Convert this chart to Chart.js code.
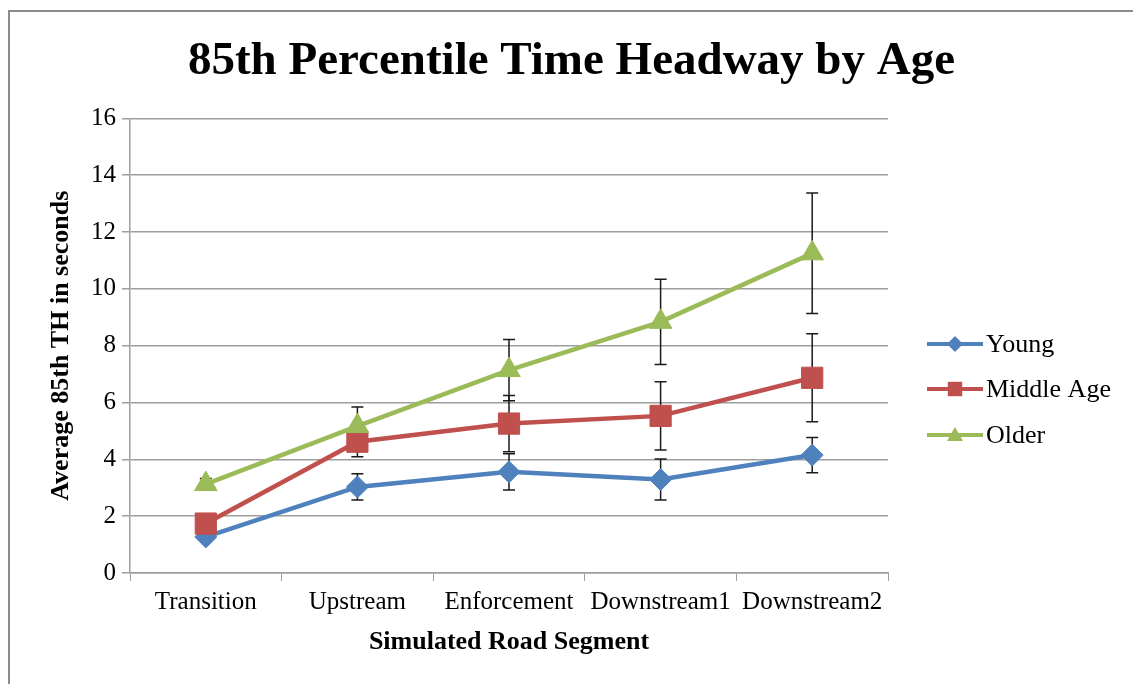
<!DOCTYPE html>
<html>
<head>
<meta charset="utf-8">
<script src="https://cdn.jsdelivr.net/npm/chart.js@4.4.1/dist/chart.umd.min.js"></script>
<style>
  html, body { margin: 0; padding: 0; background: #fff; overflow: hidden; }
  #frame { position: absolute; left: 8px; top: 10px; width: 1200px; height: 800px; border: 2px solid #8c8c8c; }
  #wrap { position: absolute; left: 0; top: 0; width: 1133px; height: 684px; }
</style>
</head>
<body>
<div id="frame"></div>
<div id="wrap"><canvas id="headwayChart"></canvas></div>
<script>
const segments = ['Transition', 'Upstream', 'Enforcement', 'Downstream1', 'Downstream2'];

const young = [1.27, 3.03, 3.56, 3.29, 4.15];
const youngErr = [0.15, 0.46, 0.64, 0.72, 0.62];

const middleAge = [1.74, 4.62, 5.26, 5.53, 6.87];
const middleAgeErr = [0.2, 0.53, 0.99, 1.2, 1.55];

const older = [3.13, 5.17, 7.14, 8.84, 11.25];
const olderErr = [0.2, 0.67, 1.08, 1.5, 2.12];

const yTicks = [0, 2, 4, 6, 8, 10, 12, 14, 16];

const SERIF = "'Liberation Serif', 'Times New Roman', serif";
const GRID = '#9e9e9e';

// vertical error bars, drawn under the markers
const errorBars = {
    id: 'errorBars',
    beforeDatasetsDraw(chart) {
        const ctx = chart.ctx;
        const y = chart.scales.y;
        ctx.save();
        ctx.strokeStyle = '#1a1a1a';
        ctx.lineWidth = 1.5;
        chart.data.datasets.forEach((ds, i) => {
            const meta = chart.getDatasetMeta(i);
            meta.data.forEach((pt, j) => {
                const v = ds.data[j], e = ds.errors[j];
                const top = y.getPixelForValue(v + e);
                const bot = y.getPixelForValue(v - e);
                const x = pt.x;
                ctx.beginPath();
                ctx.moveTo(x, top); ctx.lineTo(x, bot);
                ctx.moveTo(x - 6, top); ctx.lineTo(x + 6, top);
                ctx.moveTo(x - 6, bot); ctx.lineTo(x + 6, bot);
                ctx.stroke();
            });
        });
        ctx.restore();
    }
};

function drawMarker(ctx, style, x, y, s) {
    ctx.beginPath();
    if (style === 'rectRot') {
        ctx.moveTo(x, y - s); ctx.lineTo(x + s, y); ctx.lineTo(x, y + s); ctx.lineTo(x - s, y);
    } else if (style === 'rect') {
        ctx.rect(x - s * 0.9, y - s * 0.9, s * 1.8, s * 1.8);
    } else {
        ctx.moveTo(x, y - s); ctx.lineTo(x + s, y + s * 0.75); ctx.lineTo(x - s, y + s * 0.75);
    }
    ctx.closePath();
    ctx.fill();
}

// Excel-style legend: line with marker, text to the right
const sideLegend = {
    id: 'sideLegend',
    afterDraw(chart) {
        const ctx = chart.ctx;
        const rows = [344, 389, 435];
        ctx.save();
        chart.data.datasets.forEach((ds, i) => {
            const y = rows[i];
            ctx.strokeStyle = ds.borderColor;
            ctx.fillStyle = ds.borderColor;
            ctx.lineWidth = 4;
            ctx.beginPath();
            ctx.moveTo(927, y); ctx.lineTo(983, y);
            ctx.stroke();
            drawMarker(ctx, ds.pointStyle, 955, y, 8);
            ctx.fillStyle = '#000';
            ctx.font = '26px ' + SERIF;
            ctx.textBaseline = 'middle';
            ctx.fillText(ds.label, 986, y + 1);
        });
        ctx.restore();
    }
};

function series(label, data, errors, color, style, radius, order) {
    return {
        label: label,
        data: data,
        errors: errors,
        borderColor: color,
        backgroundColor: color,
        pointBackgroundColor: color,
        pointBorderColor: color,
        borderWidth: 4.5,
        pointStyle: style,
        pointRadius: radius,
        pointHoverRadius: radius,
        pointBorderWidth: 1,
        tension: 0,
        order: order
    };
}

const ctx = document.getElementById('headwayChart').getContext('2d');
new Chart(ctx, {
    type: 'line',
    data: {
        labels: segments,
        datasets: [
            series('Young', young, youngErr, '#4F81BD', 'rectRot', 11, 3),
            series('Middle Age', middleAge, middleAgeErr, '#C0504D', 'rect', 15, 2),
            series('Older', older, olderErr, '#9BBB59', 'triangle', 13, 1)
        ]
    },
    options: {
        responsive: true,
        maintainAspectRatio: false,
        animation: false,
        layout: { padding: { left: 10, right: 0, top: 0, bottom: 0 } },
        plugins: {
            legend: { display: false },
            tooltip: { enabled: false },
            title: {
                display: true,
                text: '85th Percentile Time Headway by Age',
                color: '#000',
                font: { family: SERIF, size: 47, weight: 'bold' },
                padding: { top: 34, bottom: 28 }
            }
        },
        scales: {
            x: {
                offset: true,
                grid: { offset: true, drawOnChartArea: false, color: GRID, tickLength: 8 },
                border: { color: GRID, width: 1.5 },
                ticks: { color: '#000', font: { family: SERIF, size: 25 }, padding: 6, maxRotation: 0, autoSkip: false },
                title: {
                    display: true,
                    text: 'Simulated Road Segment',
                    color: '#000',
                    font: { family: SERIF, size: 26, weight: 'bold' },
                    padding: { top: 0, bottom: 26 }
                },
                afterFit: s => { s.height = 111; }
            },
            y: {
                min: 0,
                max: 16,
                afterBuildTicks: s => { s.ticks = yTicks.map(v => ({ value: v })); },
                grid: { color: GRID, lineWidth: 1.5, tickLength: 8 },
                border: { color: GRID, width: 1.5 },
                ticks: { color: '#000', font: { family: SERIF, size: 25 }, padding: 6 },
                title: {
                    display: true,
                    text: 'Average 85th TH in seconds',
                    color: '#000',
                    font: { family: SERIF, size: 26, weight: 'bold' },
                    padding: { top: 36, bottom: 0 }
                },
                afterFit: s => { s.width = 120; }
            },
            // empty right-hand axis reserves room for the legend
            legendSpace: {
                type: 'linear',
                position: 'right',
                grid: { display: false },
                border: { display: false },
                ticks: { display: false },
                afterFit: s => { s.width = 245; }
            }
        }
    },
    plugins: [errorBars, sideLegend]
});
</script>
</body>
</html>
